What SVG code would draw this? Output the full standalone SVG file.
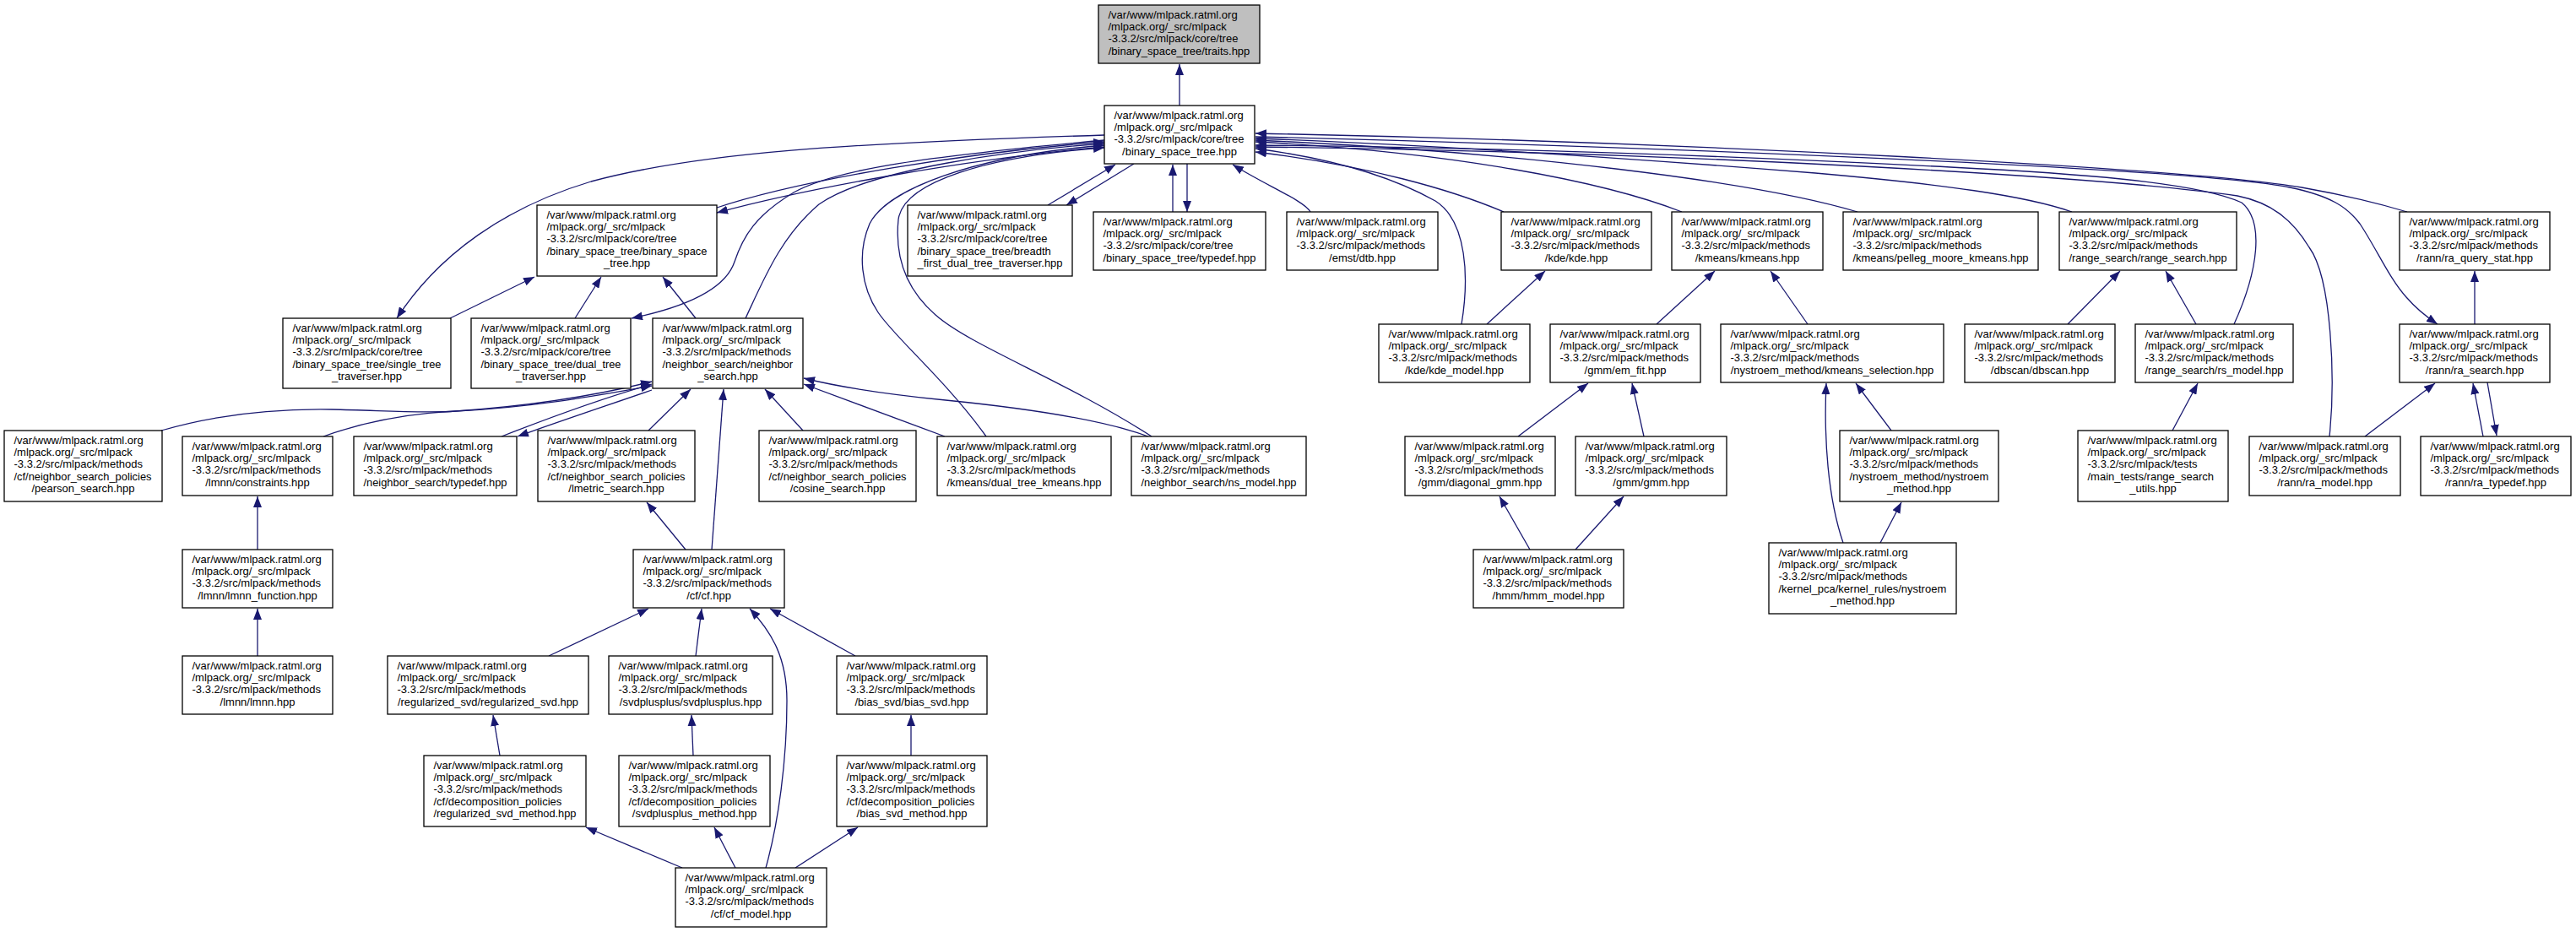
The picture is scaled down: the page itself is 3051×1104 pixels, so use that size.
<svg xmlns="http://www.w3.org/2000/svg" width="3051" height="1104" viewBox="0 0 3051 1104">
<defs>
<style>
.n rect{fill:#fff;stroke:#000;stroke-width:1.3}
.n.g rect{fill:#bfbfbf}
text{font-family:"Liberation Sans",Arial,Helvetica,sans-serif;font-size:13px;fill:#000}
.m{text-anchor:middle}
#edges path{fill:none;stroke:#191970;stroke-width:1.3;marker-end:url(#a)}
</style>
<marker id="a" markerUnits="userSpaceOnUse" markerWidth="14" markerHeight="10" refX="13" refY="5" orient="auto"><path d="M0,0 L13,5 L0,10 z" fill="#191970"/></marker>
</defs>
<rect width="3051" height="1104" fill="#fff"/>
<g id="edges">
<path d="M1397,125 L1397,76"/>
<path d="M846,247 C950,212 1150,180 1308,168"/>
<path d="M1308,174 C1150,188 960,222 849,252"/>
<path d="M1308,160 C1000,170 830,180 700,215 C600,245 520,300 470,377"/>
<path d="M1308,166 C1100,185 990,200 940,228 C895,255 880,280 870,310 C860,340 820,362 748,377"/>
<path d="M883,377 C905,330 925,280 970,242 C1030,200 1200,178 1308,170"/>
<path d="M1168,517 C1120,450 1060,400 1040,370 C1020,340 1015,300 1030,265 C1050,225 1150,185 1308,172"/>
<path d="M1364,517 C1260,450 1150,410 1108,373 C1070,340 1060,300 1064,260 C1070,215 1170,185 1308,175"/>
<path d="M1241,243 L1321,195"/>
<path d="M1343,194 L1263,243"/>
<path d="M1389,251 L1389,195"/>
<path d="M1406,194 L1406,251"/>
<path d="M1552,251 C1545,238 1500,220 1460,195"/>
<path d="M1731,384 C1740,330 1738,262 1700,238 C1650,210 1580,188 1487,176"/>
<path d="M1781,251 C1720,225 1620,196 1487,180"/>
<path d="M1992,251 C1900,215 1720,180 1487,168"/>
<path d="M2200,251 C2080,215 1800,180 1487,166"/>
<path d="M2454,251 C2400,232 2300,218 2150,205 C1900,185 1700,172 1487,164"/>
<path d="M2851,251 C2800,236 2760,228 2726,222 C2600,200 2000,168 1487,158"/>
<path d="M2646,384 C2675,320 2682,262 2655,240 C2600,215 2450,205 2310,198 C2000,182 1700,174 1487,172"/>
<path d="M2759,517 C2766,450 2762,330 2735,293 C2715,260 2690,240 2650,232 C2500,210 2000,180 1487,174"/>
<path d="M1487,162 C2000,175 2600,200 2712,222 C2760,232 2780,245 2795,265 C2815,295 2830,330 2850,352 C2862,366 2875,376 2887,384"/>
<path d="M1761,384 L1830,321"/>
<path d="M1962,384 L2031,321"/>
<path d="M2141,384 L2097,321"/>
<path d="M1798,517 L1881,454"/>
<path d="M1947,517 L1933,454"/>
<path d="M1812,651 L1776,588"/>
<path d="M1866,651 L1923,588"/>
<path d="M2183,643 C2165,590 2160,520 2163,454"/>
<path d="M2240,510 L2198,454"/>
<path d="M2227,643 L2252,595"/>
<path d="M2449,384 L2511,321"/>
<path d="M2601,384 L2565,321"/>
<path d="M2573,510 L2603,454"/>
<path d="M2931,384 L2931,321"/>
<path d="M2801,517 L2884,454"/>
<path d="M2941,517 L2929,454"/>
<path d="M2946,453 L2957,516"/>
<path d="M533,377 L633,328"/>
<path d="M681,377 L712,328"/>
<path d="M824,377 L785,328"/>
<path d="M594,517 C650,495 720,470 772,455"/>
<path d="M772,462 C720,480 660,500 613,517"/>
<path d="M191,510 C260,490 330,484 393,485 C450,486 500,490 540,487 C640,480 720,465 772,452"/>
<path d="M383,517 C430,500 480,490 540,487 C640,482 720,466 772,457"/>
<path d="M768,510 L818,461"/>
<path d="M843,651 L857,461"/>
<path d="M951,510 L906,461"/>
<path d="M1119,517 L952,455"/>
<path d="M1360,517 C1300,495 1200,482 1120,474 C1050,467 1000,460 952,448"/>
<path d="M812,651 L766,595"/>
<path d="M305,651 L305,588"/>
<path d="M305,777 L305,721"/>
<path d="M650,777 L768,721"/>
<path d="M824,777 L831,721"/>
<path d="M1013,777 L912,721"/>
<path d="M907,1028 C922,975 932,900 932,830 C932,780 915,750 888,721"/>
<path d="M592,895 L584,847"/>
<path d="M821,895 L819,847"/>
<path d="M1079,895 L1079,847"/>
<path d="M808,1028 L694,980"/>
<path d="M871,1028 L846,980"/>
<path d="M942,1028 L1016,980"/>
</g>

<g id="n0" class="n g"><rect x="1301" y="6" width="191" height="69"/>
<text x="1312.5" y="21.5">/var/www/mlpack.ratml.org</text><text x="1312.5" y="35.9">/mlpack.org/_src/mlpack</text><text x="1312.5" y="50.3">-3.3.2/src/mlpack/core/tree</text><text class="m" x="1396.5" y="64.7">/binary_space_tree/traits.hpp</text></g>

<g id="n1" class="n"><rect x="1308" y="125" width="178" height="69"/>
<text x="1319.5" y="140.5">/var/www/mlpack.ratml.org</text><text x="1319.5" y="154.9">/mlpack.org/_src/mlpack</text><text x="1319.5" y="169.3">-3.3.2/src/mlpack/core/tree</text><text class="m" x="1397" y="183.7">/binary_space_tree.hpp</text></g>

<g id="n2" class="n"><rect x="636" y="243" width="213" height="84"/>
<text x="647.5" y="258.5">/var/www/mlpack.ratml.org</text><text x="647.5" y="272.9">/mlpack.org/_src/mlpack</text><text x="647.5" y="287.3">-3.3.2/src/mlpack/core/tree</text><text x="647.5" y="301.7" textLength="190" lengthAdjust="spacingAndGlyphs">/binary_space_tree/binary_space</text><text class="m" x="742.5" y="316.1">_tree.hpp</text></g>

<g id="n3" class="n"><rect x="1075" y="243" width="195" height="84"/>
<text x="1086.5" y="258.5">/var/www/mlpack.ratml.org</text><text x="1086.5" y="272.9">/mlpack.org/_src/mlpack</text><text x="1086.5" y="287.3">-3.3.2/src/mlpack/core/tree</text><text x="1086.5" y="301.7">/binary_space_tree/breadth</text><text class="m" x="1172.5" y="316.1" textLength="172" lengthAdjust="spacingAndGlyphs">_first_dual_tree_traverser.hpp</text></g>

<g id="n4" class="n"><rect x="1295" y="251" width="204" height="69"/>
<text x="1306.5" y="266.5">/var/www/mlpack.ratml.org</text><text x="1306.5" y="280.9">/mlpack.org/_src/mlpack</text><text x="1306.5" y="295.3">-3.3.2/src/mlpack/core/tree</text><text class="m" x="1397" y="309.7" textLength="181" lengthAdjust="spacingAndGlyphs">/binary_space_tree/typedef.hpp</text></g>

<g id="n5" class="n"><rect x="1524" y="251" width="179" height="69"/>
<text x="1535.5" y="266.5">/var/www/mlpack.ratml.org</text><text x="1535.5" y="280.9">/mlpack.org/_src/mlpack</text><text x="1535.5" y="295.3">-3.3.2/src/mlpack/methods</text><text class="m" x="1613.5" y="309.7">/emst/dtb.hpp</text></g>

<g id="n6" class="n"><rect x="1778" y="251" width="178" height="69"/>
<text x="1789.5" y="266.5">/var/www/mlpack.ratml.org</text><text x="1789.5" y="280.9">/mlpack.org/_src/mlpack</text><text x="1789.5" y="295.3">-3.3.2/src/mlpack/methods</text><text class="m" x="1867" y="309.7">/kde/kde.hpp</text></g>

<g id="n7" class="n"><rect x="1980" y="251" width="179" height="69"/>
<text x="1991.5" y="266.5">/var/www/mlpack.ratml.org</text><text x="1991.5" y="280.9">/mlpack.org/_src/mlpack</text><text x="1991.5" y="295.3">-3.3.2/src/mlpack/methods</text><text class="m" x="2069.5" y="309.7">/kmeans/kmeans.hpp</text></g>

<g id="n8" class="n"><rect x="2183" y="251" width="231" height="69"/>
<text x="2194.5" y="266.5">/var/www/mlpack.ratml.org</text><text x="2194.5" y="280.9">/mlpack.org/_src/mlpack</text><text x="2194.5" y="295.3">-3.3.2/src/mlpack/methods</text><text class="m" x="2298.5" y="309.7" textLength="208" lengthAdjust="spacingAndGlyphs">/kmeans/pelleg_moore_kmeans.hpp</text></g>

<g id="n9" class="n"><rect x="2439" y="251" width="210" height="69"/>
<text x="2450.5" y="266.5">/var/www/mlpack.ratml.org</text><text x="2450.5" y="280.9">/mlpack.org/_src/mlpack</text><text x="2450.5" y="295.3">-3.3.2/src/mlpack/methods</text><text class="m" x="2544" y="309.7" textLength="187" lengthAdjust="spacingAndGlyphs">/range_search/range_search.hpp</text></g>

<g id="n10" class="n"><rect x="2842" y="251" width="178" height="69"/>
<text x="2853.5" y="266.5">/var/www/mlpack.ratml.org</text><text x="2853.5" y="280.9">/mlpack.org/_src/mlpack</text><text x="2853.5" y="295.3">-3.3.2/src/mlpack/methods</text><text class="m" x="2931" y="309.7">/rann/ra_query_stat.hpp</text></g>

<g id="n11" class="n"><rect x="335" y="377" width="199" height="83"/>
<text x="346.5" y="392.5">/var/www/mlpack.ratml.org</text><text x="346.5" y="406.9">/mlpack.org/_src/mlpack</text><text x="346.5" y="421.3">-3.3.2/src/mlpack/core/tree</text><text x="346.5" y="435.7" textLength="176" lengthAdjust="spacingAndGlyphs">/binary_space_tree/single_tree</text><text class="m" x="434.5" y="450.1">_traverser.hpp</text></g>

<g id="n12" class="n"><rect x="558" y="377" width="189" height="83"/>
<text x="569.5" y="392.5">/var/www/mlpack.ratml.org</text><text x="569.5" y="406.9">/mlpack.org/_src/mlpack</text><text x="569.5" y="421.3">-3.3.2/src/mlpack/core/tree</text><text x="569.5" y="435.7" textLength="166" lengthAdjust="spacingAndGlyphs">/binary_space_tree/dual_tree</text><text class="m" x="652.5" y="450.1">_traverser.hpp</text></g>

<g id="n13" class="n"><rect x="773" y="377" width="178" height="83"/>
<text x="784.5" y="392.5">/var/www/mlpack.ratml.org</text><text x="784.5" y="406.9">/mlpack.org/_src/mlpack</text><text x="784.5" y="421.3">-3.3.2/src/mlpack/methods</text><text x="784.5" y="435.7">/neighbor_search/neighbor</text><text class="m" x="862" y="450.1">_search.hpp</text></g>

<g id="n14" class="n"><rect x="1633" y="384" width="179" height="69"/>
<text x="1644.5" y="399.5">/var/www/mlpack.ratml.org</text><text x="1644.5" y="413.9">/mlpack.org/_src/mlpack</text><text x="1644.5" y="428.3">-3.3.2/src/mlpack/methods</text><text class="m" x="1722.5" y="442.7">/kde/kde_model.hpp</text></g>

<g id="n15" class="n"><rect x="1836" y="384" width="178" height="69"/>
<text x="1847.5" y="399.5">/var/www/mlpack.ratml.org</text><text x="1847.5" y="413.9">/mlpack.org/_src/mlpack</text><text x="1847.5" y="428.3">-3.3.2/src/mlpack/methods</text><text class="m" x="1925" y="442.7">/gmm/em_fit.hpp</text></g>

<g id="n16" class="n"><rect x="2038" y="384" width="264" height="69"/>
<text x="2049.5" y="399.5">/var/www/mlpack.ratml.org</text><text x="2049.5" y="413.9">/mlpack.org/_src/mlpack</text><text x="2049.5" y="428.3">-3.3.2/src/mlpack/methods</text><text class="m" x="2170" y="442.7">/nystroem_method/kmeans_selection.hpp</text></g>

<g id="n17" class="n"><rect x="2327" y="384" width="178" height="69"/>
<text x="2338.5" y="399.5">/var/www/mlpack.ratml.org</text><text x="2338.5" y="413.9">/mlpack.org/_src/mlpack</text><text x="2338.5" y="428.3">-3.3.2/src/mlpack/methods</text><text class="m" x="2416" y="442.7">/dbscan/dbscan.hpp</text></g>

<g id="n18" class="n"><rect x="2529" y="384" width="187" height="69"/>
<text x="2540.5" y="399.5">/var/www/mlpack.ratml.org</text><text x="2540.5" y="413.9">/mlpack.org/_src/mlpack</text><text x="2540.5" y="428.3">-3.3.2/src/mlpack/methods</text><text class="m" x="2622.5" y="442.7" textLength="164" lengthAdjust="spacingAndGlyphs">/range_search/rs_model.hpp</text></g>

<g id="n19" class="n"><rect x="2842" y="384" width="178" height="69"/>
<text x="2853.5" y="399.5">/var/www/mlpack.ratml.org</text><text x="2853.5" y="413.9">/mlpack.org/_src/mlpack</text><text x="2853.5" y="428.3">-3.3.2/src/mlpack/methods</text><text class="m" x="2931" y="442.7">/rann/ra_search.hpp</text></g>

<g id="n20" class="n"><rect x="5" y="510" width="187" height="84"/>
<text x="16.5" y="525.5">/var/www/mlpack.ratml.org</text><text x="16.5" y="539.9">/mlpack.org/_src/mlpack</text><text x="16.5" y="554.3">-3.3.2/src/mlpack/methods</text><text x="16.5" y="568.7" textLength="163" lengthAdjust="spacingAndGlyphs">/cf/neighbor_search_policies</text><text class="m" x="98.5" y="583.1">/pearson_search.hpp</text></g>

<g id="n21" class="n"><rect x="216" y="517" width="178" height="70"/>
<text x="227.5" y="532.5">/var/www/mlpack.ratml.org</text><text x="227.5" y="546.9">/mlpack.org/_src/mlpack</text><text x="227.5" y="561.3">-3.3.2/src/mlpack/methods</text><text class="m" x="305" y="575.7">/lmnn/constraints.hpp</text></g>

<g id="n22" class="n"><rect x="419" y="517" width="193" height="70"/>
<text x="430.5" y="532.5">/var/www/mlpack.ratml.org</text><text x="430.5" y="546.9">/mlpack.org/_src/mlpack</text><text x="430.5" y="561.3">-3.3.2/src/mlpack/methods</text><text class="m" x="515.5" y="575.7" textLength="170" lengthAdjust="spacingAndGlyphs">/neighbor_search/typedef.hpp</text></g>

<g id="n23" class="n"><rect x="637" y="510" width="186" height="84"/>
<text x="648.5" y="525.5">/var/www/mlpack.ratml.org</text><text x="648.5" y="539.9">/mlpack.org/_src/mlpack</text><text x="648.5" y="554.3">-3.3.2/src/mlpack/methods</text><text x="648.5" y="568.7" textLength="163" lengthAdjust="spacingAndGlyphs">/cf/neighbor_search_policies</text><text class="m" x="730" y="583.1">/lmetric_search.hpp</text></g>

<g id="n24" class="n"><rect x="899" y="510" width="186" height="84"/>
<text x="910.5" y="525.5">/var/www/mlpack.ratml.org</text><text x="910.5" y="539.9">/mlpack.org/_src/mlpack</text><text x="910.5" y="554.3">-3.3.2/src/mlpack/methods</text><text x="910.5" y="568.7" textLength="163" lengthAdjust="spacingAndGlyphs">/cf/neighbor_search_policies</text><text class="m" x="992" y="583.1">/cosine_search.hpp</text></g>

<g id="n25" class="n"><rect x="1110" y="517" width="206" height="70"/>
<text x="1121.5" y="532.5">/var/www/mlpack.ratml.org</text><text x="1121.5" y="546.9">/mlpack.org/_src/mlpack</text><text x="1121.5" y="561.3">-3.3.2/src/mlpack/methods</text><text class="m" x="1213" y="575.7" textLength="183" lengthAdjust="spacingAndGlyphs">/kmeans/dual_tree_kmeans.hpp</text></g>

<g id="n26" class="n"><rect x="1340" y="517" width="207" height="70"/>
<text x="1351.5" y="532.5">/var/www/mlpack.ratml.org</text><text x="1351.5" y="546.9">/mlpack.org/_src/mlpack</text><text x="1351.5" y="561.3">-3.3.2/src/mlpack/methods</text><text class="m" x="1443.5" y="575.7" textLength="184" lengthAdjust="spacingAndGlyphs">/neighbor_search/ns_model.hpp</text></g>

<g id="n27" class="n"><rect x="1664" y="517" width="178" height="70"/>
<text x="1675.5" y="532.5">/var/www/mlpack.ratml.org</text><text x="1675.5" y="546.9">/mlpack.org/_src/mlpack</text><text x="1675.5" y="561.3">-3.3.2/src/mlpack/methods</text><text class="m" x="1753" y="575.7">/gmm/diagonal_gmm.hpp</text></g>

<g id="n28" class="n"><rect x="1866" y="517" width="179" height="70"/>
<text x="1877.5" y="532.5">/var/www/mlpack.ratml.org</text><text x="1877.5" y="546.9">/mlpack.org/_src/mlpack</text><text x="1877.5" y="561.3">-3.3.2/src/mlpack/methods</text><text class="m" x="1955.5" y="575.7">/gmm/gmm.hpp</text></g>

<g id="n29" class="n"><rect x="2179" y="510" width="188" height="84"/>
<text x="2190.5" y="525.5">/var/www/mlpack.ratml.org</text><text x="2190.5" y="539.9">/mlpack.org/_src/mlpack</text><text x="2190.5" y="554.3">-3.3.2/src/mlpack/methods</text><text x="2190.5" y="568.7">/nystroem_method/nystroem</text><text class="m" x="2273" y="583.1">_method.hpp</text></g>

<g id="n30" class="n"><rect x="2461" y="510" width="178" height="84"/>
<text x="2472.5" y="525.5">/var/www/mlpack.ratml.org</text><text x="2472.5" y="539.9">/mlpack.org/_src/mlpack</text><text x="2472.5" y="554.3">-3.3.2/src/mlpack/tests</text><text x="2472.5" y="568.7">/main_tests/range_search</text><text class="m" x="2550" y="583.1">_utils.hpp</text></g>

<g id="n31" class="n"><rect x="2664" y="517" width="179" height="70"/>
<text x="2675.5" y="532.5">/var/www/mlpack.ratml.org</text><text x="2675.5" y="546.9">/mlpack.org/_src/mlpack</text><text x="2675.5" y="561.3">-3.3.2/src/mlpack/methods</text><text class="m" x="2753.5" y="575.7">/rann/ra_model.hpp</text></g>

<g id="n32" class="n"><rect x="2867" y="517" width="178" height="70"/>
<text x="2878.5" y="532.5">/var/www/mlpack.ratml.org</text><text x="2878.5" y="546.9">/mlpack.org/_src/mlpack</text><text x="2878.5" y="561.3">-3.3.2/src/mlpack/methods</text><text class="m" x="2956" y="575.7">/rann/ra_typedef.hpp</text></g>

<g id="n33" class="n"><rect x="216" y="651" width="178" height="69"/>
<text x="227.5" y="666.5">/var/www/mlpack.ratml.org</text><text x="227.5" y="680.9">/mlpack.org/_src/mlpack</text><text x="227.5" y="695.3">-3.3.2/src/mlpack/methods</text><text class="m" x="305" y="709.7">/lmnn/lmnn_function.hpp</text></g>

<g id="n34" class="n"><rect x="750" y="651" width="179" height="69"/>
<text x="761.5" y="666.5">/var/www/mlpack.ratml.org</text><text x="761.5" y="680.9">/mlpack.org/_src/mlpack</text><text x="761.5" y="695.3">-3.3.2/src/mlpack/methods</text><text class="m" x="839.5" y="709.7">/cf/cf.hpp</text></g>

<g id="n35" class="n"><rect x="1745" y="651" width="178" height="69"/>
<text x="1756.5" y="666.5">/var/www/mlpack.ratml.org</text><text x="1756.5" y="680.9">/mlpack.org/_src/mlpack</text><text x="1756.5" y="695.3">-3.3.2/src/mlpack/methods</text><text class="m" x="1834" y="709.7">/hmm/hmm_model.hpp</text></g>

<g id="n36" class="n"><rect x="2095" y="643" width="222" height="84"/>
<text x="2106.5" y="658.5">/var/www/mlpack.ratml.org</text><text x="2106.5" y="672.9">/mlpack.org/_src/mlpack</text><text x="2106.5" y="687.3">-3.3.2/src/mlpack/methods</text><text x="2106.5" y="701.7">/kernel_pca/kernel_rules/nystroem</text><text class="m" x="2206" y="716.1">_method.hpp</text></g>

<g id="n37" class="n"><rect x="216" y="777" width="178" height="69"/>
<text x="227.5" y="792.5">/var/www/mlpack.ratml.org</text><text x="227.5" y="806.9">/mlpack.org/_src/mlpack</text><text x="227.5" y="821.3">-3.3.2/src/mlpack/methods</text><text class="m" x="305" y="835.7">/lmnn/lmnn.hpp</text></g>

<g id="n38" class="n"><rect x="459" y="777" width="238" height="69"/>
<text x="470.5" y="792.5">/var/www/mlpack.ratml.org</text><text x="470.5" y="806.9">/mlpack.org/_src/mlpack</text><text x="470.5" y="821.3">-3.3.2/src/mlpack/methods</text><text class="m" x="578" y="835.7" textLength="214" lengthAdjust="spacingAndGlyphs">/regularized_svd/regularized_svd.hpp</text></g>

<g id="n39" class="n"><rect x="721" y="777" width="194" height="69"/>
<text x="732.5" y="792.5">/var/www/mlpack.ratml.org</text><text x="732.5" y="806.9">/mlpack.org/_src/mlpack</text><text x="732.5" y="821.3">-3.3.2/src/mlpack/methods</text><text class="m" x="818" y="835.7">/svdplusplus/svdplusplus.hpp</text></g>

<g id="n40" class="n"><rect x="991" y="777" width="178" height="69"/>
<text x="1002.5" y="792.5">/var/www/mlpack.ratml.org</text><text x="1002.5" y="806.9">/mlpack.org/_src/mlpack</text><text x="1002.5" y="821.3">-3.3.2/src/mlpack/methods</text><text class="m" x="1080" y="835.7">/bias_svd/bias_svd.hpp</text></g>

<g id="n41" class="n"><rect x="502" y="895" width="192" height="84"/>
<text x="513.5" y="910.5">/var/www/mlpack.ratml.org</text><text x="513.5" y="924.9">/mlpack.org/_src/mlpack</text><text x="513.5" y="939.3">-3.3.2/src/mlpack/methods</text><text x="513.5" y="953.7">/cf/decomposition_policies</text><text class="m" x="598" y="968.1" textLength="169" lengthAdjust="spacingAndGlyphs">/regularized_svd_method.hpp</text></g>

<g id="n42" class="n"><rect x="733" y="895" width="179" height="84"/>
<text x="744.5" y="910.5">/var/www/mlpack.ratml.org</text><text x="744.5" y="924.9">/mlpack.org/_src/mlpack</text><text x="744.5" y="939.3">-3.3.2/src/mlpack/methods</text><text x="744.5" y="953.7">/cf/decomposition_policies</text><text class="m" x="822.5" y="968.1">/svdplusplus_method.hpp</text></g>

<g id="n43" class="n"><rect x="991" y="895" width="178" height="84"/>
<text x="1002.5" y="910.5">/var/www/mlpack.ratml.org</text><text x="1002.5" y="924.9">/mlpack.org/_src/mlpack</text><text x="1002.5" y="939.3">-3.3.2/src/mlpack/methods</text><text x="1002.5" y="953.7">/cf/decomposition_policies</text><text class="m" x="1080" y="968.1">/bias_svd_method.hpp</text></g>

<g id="n44" class="n"><rect x="800" y="1028" width="179" height="70"/>
<text x="811.5" y="1043.5">/var/www/mlpack.ratml.org</text><text x="811.5" y="1057.9">/mlpack.org/_src/mlpack</text><text x="811.5" y="1072.3">-3.3.2/src/mlpack/methods</text><text class="m" x="889.5" y="1086.7">/cf/cf_model.hpp</text></g>
</svg>
